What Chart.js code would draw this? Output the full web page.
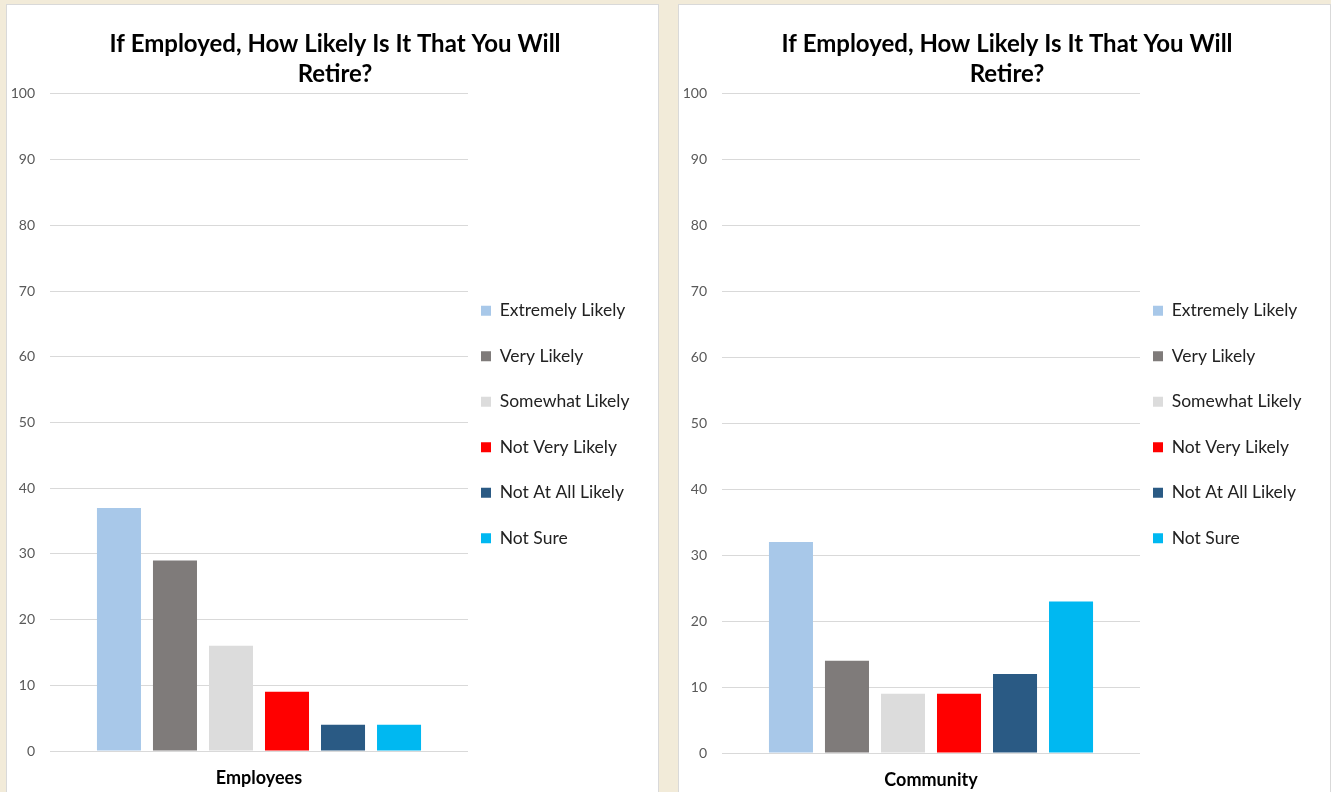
<!DOCTYPE html>
<html>
<head>
<meta charset="utf-8">
<script src="https://cdn.jsdelivr.net/npm/chart.js@4/dist/chart.umd.min.js"></script>
<style>
  html, body { margin: 0; padding: 0; }
  body { width: 1331px; height: 792px; background: #f2ebd9; position: relative; overflow: hidden; }
  .panel { position: absolute; top: 4px; width: 651px; height: 800px; background: #fff; border: 1px solid #d9d9d9; }
  #leftPanel { left: 6px; }
  #rightPanel { left: 678px; }
  canvas { display: block; }
</style>
</head>
<body>
<div class="panel" id="leftPanel"><canvas id="employeesChart" width="651" height="788"></canvas></div>
<div class="panel" id="rightPanel"><canvas id="communityChart" width="651" height="788"></canvas></div>

<script>
// chart data
const chartTitle = ['If Employed, How Likely Is It That You Will', 'Retire?'];
const responses = ['Extremely Likely', 'Very Likely', 'Somewhat Likely', 'Not Very Likely', 'Not At All Likely', 'Not Sure'];
const employees = [37, 29, 16, 9, 4, 4];
const community = [32, 14, 9, 9, 12, 23];
const barColors = ['#a8c8e9', '#7f7b7a', '#dcdcdc', '#ff0000', '#2a5a84', '#00b8f1'];
const yMin = 0;
const yMax = 100;
const yStep = 10;

Chart.defaults.font.family = 'Lato, "Open Sans", sans-serif';
Chart.defaults.color = '#595959';

// legend sits just right of the plot area and the title is centred on the whole panel
const placeBoxes = {
    id: 'placeBoxes',
    afterLayout(chart, args, opts) {
        const lg = chart.legend;
        if (lg) {
            const pad = lg.options.labels.padding;
            lg.left = chart.chartArea.right + opts.gap - pad;
            lg.right = lg.left + lg.width;
            lg.top = opts.top - pad;
            lg.bottom = lg.top + 400;
        }
        const tb = chart.titleBlock;
        if (tb) {
            tb.left = 5;
            tb.right = chart.width;
        }
    }
};

function makeChart(canvasId, groupName, values, bottomPad, axisHeight) {
    const ctx = document.getElementById(canvasId).getContext('2d');
    return new Chart(ctx, {
        type: 'bar',
        data: {
            labels: [groupName],
            datasets: responses.map((r, i) => ({
                label: r,
                data: [values[i]],
                backgroundColor: barColors[i],
                borderWidth: 0,
                categoryPercentage: 0.804,
                barPercentage: 0.786
            }))
        },
        plugins: [placeBoxes],
        options: {
            responsive: false,
            animation: false,
            layout: { padding: { left: 5, right: 190, top: 0, bottom: 0 } },
            plugins: {
                title: {
                    display: true,
                    text: chartTitle,
                    color: '#000',
                    font: { size: 24, weight: 'bold', lineHeight: 1.27 },
                    padding: { top: 24, bottom: 4 }
                },
                legend: {
                    position: 'chartArea',
                    align: 'start',
                    labels: {
                        boxWidth: 10,
                        boxHeight: 10,
                        padding: 28,
                        color: '#222',
                        font: { size: 17.5 }
                    }
                },
                placeBoxes: { gap: 13, top: 297 },
                tooltip: { enabled: false }
            },
            scales: {
                x: {
                    grid: { display: false, drawTicks: false },
                    border: { display: false },
                    ticks: { display: false },
                    title: {
                        display: true,
                        text: groupName,
                        color: '#000',
                        font: { size: 18, weight: 'bold' },
                        padding: { top: 0, bottom: bottomPad }
                    },
                    afterFit(scale) { scale.height = axisHeight; }
                },
                y: {
                    min: yMin,
                    max: yMax,
                    ticks: { stepSize: yStep, padding: 15, font: { size: 14 }, color: '#595959' },
                    grid: { color: '#d9d9d9', lineWidth: 1, drawTicks: false },
                    border: { display: false },
                    afterFit(scale) { scale.width = 38; }
                }
            }
        }
    });
}

makeChart('employeesChart', 'Employees', employees, 4, 42);
makeChart('communityChart', 'Community', community, 2, 40);
</script>
</body>
</html>
